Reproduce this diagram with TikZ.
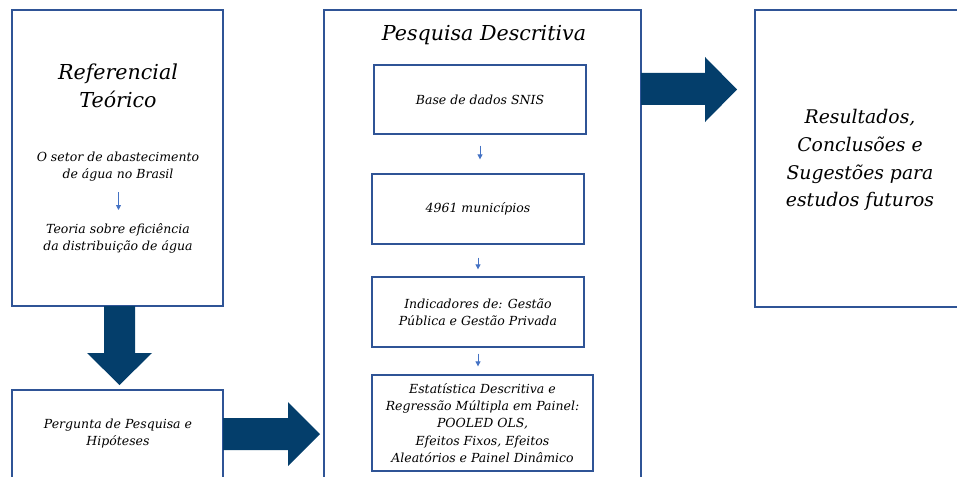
\documentclass[tikz,border=0pt]{standalone}
\usepackage{fontspec}
\setmainfont{DejaVu Serif}
\usetikzlibrary{arrows.meta}
\definecolor{boxblue}{RGB}{47,84,150}
\definecolor{navy}{RGB}{4,62,107}
\definecolor{thinblue}{RGB}{68,114,196}
\tikzset{
  frame/.style={draw=boxblue, line width=1.3pt, fill=white},
  big/.style={font=\fontsize{20.6}{28}\selectfont\itshape, align=center, inner sep=0pt},
  bigr/.style={font=\fontsize{18.8}{27.7}\selectfont\itshape, align=center, inner sep=0pt},
  small/.style={font=\fontsize{12.5}{17.2}\selectfont\itshape, align=center, inner sep=0pt},
  thin/.style={draw=thinblue, line width=0.8pt, -{Triangle[length=5pt,width=5pt]}},
  block/.style={fill=navy, draw=none}
}
\begin{document}
\begin{tikzpicture}[x=1pt,y=-1pt]
\useasboundingbox (0,0) rectangle (957,476);
\clip (0,0) rectangle (957,476);
% boxes
\draw[frame] (12,10) rectangle (223,306);
\draw[frame] (12,390) rectangle (223,500);
\draw[frame] (324,10) rectangle (641,500);
\draw[frame] (755,10) rectangle (985,307);
% inner boxes
\node[frame, minimum width=212pt, minimum height=69pt, small] (b1) at (480,99.5) {Base de dados SNIS};
\node[frame, minimum width=212pt, minimum height=70pt, small] (b2) at (478,209) {4961 municípios};
\node[frame, minimum width=212pt, minimum height=70pt, small] (b3) at (478,312) {Indicadores de: Gestão\\Pública e Gestão Privada};
\node[frame, minimum width=221pt, minimum height=96pt, small] (b4) at (482.5,423) {Estatística Descritiva e\\Regressão Múltipla em Painel:\\POOLED OLS,\\Efeitos Fixos, Efeitos\\Aleatórios e Painel Dinâmico};
% texts
\node[big] (reft) at (118,86) {Referencial\\Teórico};
\node[small] (setor) at (118,166.5) {O setor de abastecimento\\de água no Brasil};
\node[small] (teoria) at (118,238) {Teoria sobre eficiência\\da distribuição de água};
\node[small] (perg) at (118,433.5) {Pergunta de Pesquisa e\\Hipóteses};
\node[big] (pesq) at (484,35) {Pesquisa Descritiva};
\node[bigr] (res) at (860,160) {Resultados,\\Conclusões e\\Sugestões para\\estudos futuros};
% thin arrows
\coordinate (s1) at (118.5,192); \coordinate (s2) at (118.5,210);
\draw[thin] (s1) -- (s2);
\draw[thin, shorten <=11pt, shorten >=14pt] (b1) -- (b1.south |- b2.north);
\draw[thin, shorten <=13pt, shorten >=7pt] (b2) -- (b3);
\draw[thin, shorten <=6pt, shorten >=8pt] (b3) -- (b3.south |- b4.north);
% block arrows
\fill[block] (104,306) -- (135,306) -- (135,353) -- (152,353) -- (119.5,385) -- (87,353) -- (104,353) -- cycle;
\fill[block] (223,418) -- (288,418) -- (288,402) -- (320,434) -- (288,466) -- (288,450) -- (223,450) -- cycle;
\fill[block] (641,73) -- (705,73) -- (705,57) -- (737,89.5) -- (705,122) -- (705,105) -- (641,105) -- cycle;
\end{tikzpicture}
\end{document}
